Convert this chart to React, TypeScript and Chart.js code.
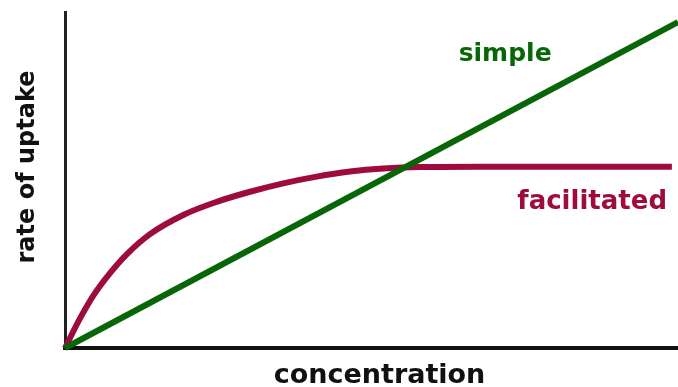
import React, { useEffect, useRef } from "react";
import { Chart, registerables } from "chart.js";

Chart.register(...registerables);

// Simple diffusion: straight line through origin
const simpleX = [0, 100];
const simpleY = [0, 97];

// Facilitated diffusion: saturating curve
const facilitatedX = [0, 2.45, 4.62, 7.34, 10.07, 13.87, 19.3, 24.75, 30.18, 35.61, 41.06, 46.49, 51.93, 57.91, 67.7, 99.0];
const facilitatedY = [0, 8.8, 15.6, 22.3, 27.9, 33.9, 39.6, 43.5, 46.5, 49.0, 51.0, 52.5, 53.4, 53.85, 53.96, 53.96];

const xTitle = "concentration";
const yTitle = "rate of uptake";
const simpleLabel = "simple";
const facilitatedLabel = "facilitated";

// label anchors in data units
const simpleLabelPos = { x: 71.8, y: 85.4 };
const facilitatedLabelPos = { x: 86.0, y: 41.4 };

const GREEN = "#086608";
const RED = "#9e0b3e";
const FONT = "'DejaVu Sans', sans-serif";

const textPlugin = {
  id: "textLabels",
  afterDraw(chart: any) {
    const { ctx, chartArea, scales } = chart;
    const xs = scales.x;
    const ys = scales.y;
    ctx.save();
    ctx.textAlign = "center";
    ctx.textBaseline = "alphabetic";

    // x-axis title
    ctx.fillStyle = "#111";
    ctx.font = `bold 27px ${FONT}`;
    ctx.fillText(xTitle, (chartArea.left + chartArea.right) / 2 + 8, chartArea.bottom + 35);

    // y-axis title
    ctx.save();
    ctx.translate(chartArea.left - 31, (chartArea.top + chartArea.bottom) / 2 - 13);
    ctx.rotate(-Math.PI / 2);
    ctx.font = `bold 24px ${FONT}`;
    ctx.fillText(yTitle, 0, 0);
    ctx.restore();

    // series labels
    ctx.fillStyle = GREEN;
    ctx.font = `bold 25px ${FONT}`;
    ctx.fillText(simpleLabel, xs.getPixelForValue(simpleLabelPos.x), ys.getPixelForValue(simpleLabelPos.y));

    ctx.fillStyle = RED;
    ctx.font = `bold 26px ${FONT}`;
    ctx.fillText(facilitatedLabel, xs.getPixelForValue(facilitatedLabelPos.x), ys.getPixelForValue(facilitatedLabelPos.y));

    ctx.restore();
  },
};

export default function App() {
  const canvasRef = useRef<HTMLCanvasElement | null>(null);

  useEffect(() => {
    if (!canvasRef.current) return;
    const chart = new Chart(canvasRef.current, {
      type: "line",
      data: {
        datasets: [
          {
            label: simpleLabel,
            data: simpleX.map((x, i) => ({ x, y: simpleY[i] })),
            borderColor: GREEN,
            borderWidth: 6,
            pointRadius: 0,
            tension: 0,
            clip: 10,
          },
          {
            label: facilitatedLabel,
            data: facilitatedX.map((x, i) => ({ x, y: facilitatedY[i] })),
            borderColor: RED,
            borderWidth: 6,
            pointRadius: 0,
            cubicInterpolationMode: "monotone",
            clip: 10,
          },
        ],
      },
      options: {
        responsive: false,
        animation: false,
        events: [],
        layout: { padding: { left: 65, right: 0, top: 12, bottom: 39 } },
        plugins: {
          legend: { display: false },
          tooltip: { enabled: false },
        },
        scales: {
          x: {
            type: "linear",
            min: 0,
            max: 100,
            ticks: { display: false },
            grid: { display: false, drawTicks: false },
            border: { display: true, color: "#111", width: 4 },
          },
          y: {
            type: "linear",
            min: 0,
            max: 100,
            ticks: { display: false },
            grid: { display: false, drawTicks: false },
            border: { display: true, color: "#222", width: 3 },
          },
        },
      },
      plugins: [textPlugin],
    } as any);
    return () => chart.destroy();
  }, []);

  return (
    <div style={{ position: "fixed", left: 0, top: 0, width: 678, height: 387, background: "#fff" }}>
      <canvas ref={canvasRef} width={678} height={387} style={{ display: "block" }} />
    </div>
  );
}
